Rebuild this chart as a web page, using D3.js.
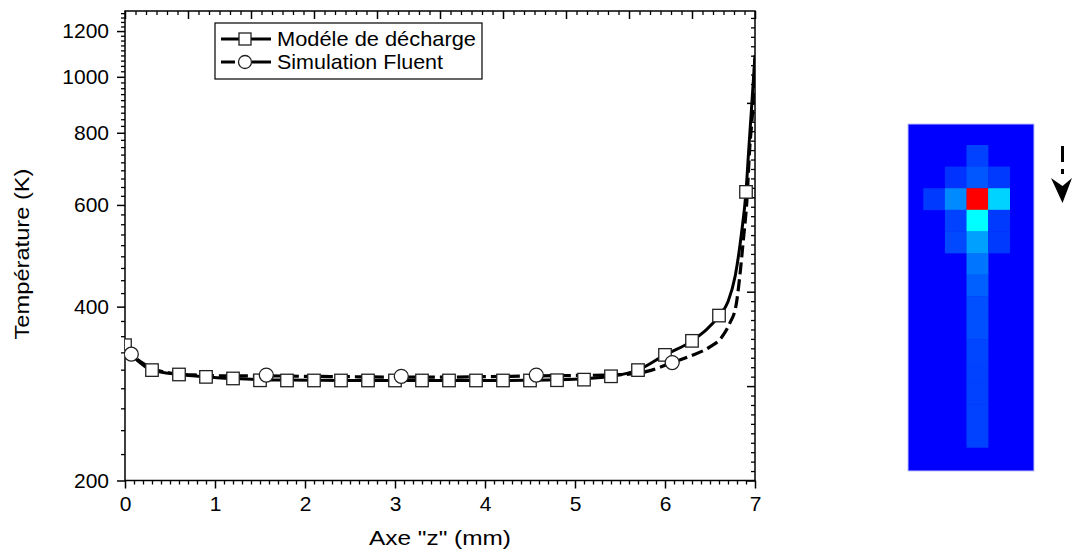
<!DOCTYPE html>
<html><head><meta charset="utf-8">
<script src="https://cdn.jsdelivr.net/npm/d3@7"></script>
<style>body{margin:0;background:#fff}svg{display:block;font-family:"Liberation Sans",Arial,sans-serif}</style>
</head><body>
<svg id="c" width="1072" height="555"></svg>
<script>
// ---- data ----
const xTicks = [0,1,2,3,4,5,6,7];
const yTicks = [200,400,600,800,1000,1200];
const seriesNames = ["Modéle de décharge","Simulation Fluent"];
// Modèle de décharge (solid curve)
const modeleZ = [0,0.1,0.2,0.3,0.6,0.9,1.2,1.5,1.8,2.1,2.4,2.7,3.0,3.3,3.6,3.9,4.2,4.5,4.8,5.1,5.4,5.7,6.0,6.3,6.6,6.7,6.78,6.85,6.9,6.93,6.96,7.0];
const modeleT = [343,327,317,310.6,305.2,302.3,300.4,299,298.5,298.2,298,298,298,298,298,298,298,298.3,298.8,300,303,310.6,330,349,386,408,452,536,632,746,875,1090];
// square markers of the model (every 0.3 mm)
const markZ = [0,0.3,0.6,0.9,1.2,1.5,1.8,2.1,2.4,2.7,3.0,3.3,3.6,3.9,4.2,4.5,4.8,5.1,5.4,5.7,6.0,6.3,6.6,6.9];
const markT = [343,310.6,305.2,302.3,300.4,298.2,298,298,298,298,298,298,298,298,298,298,298.3,299,303,310.6,330,349,386,632];
// Simulation Fluent (dashed curve)
const fluentZ = [0,0.07,0.2,0.3,0.5,0.8,1.2,1.57,2.0,2.5,3.07,3.5,4.0,4.57,5.0,5.5,5.8,6.08,6.28,6.5,6.63,6.72,6.79,6.83,6.87,6.91,6.94,6.98,7.0];
const fluentT = [340,331,319,313,307,304.5,303.5,303.5,303,302.5,302,302,302.5,303.5,304,305,309,320,328.4,340.8,354,374.6,402.5,450,521,611,746,911,1090];
// circle markers of Fluent
const circZ = [0.07,1.57,3.07,4.57,6.08];
const circT = [331,304.5,303,304.5,320];
// temperature map (col,row,level 0..1)
const heatCol = [2, 1,2,3, 0,1,2,3, 1,2,3, 1,2,3, 2,2,2,2,2,2,2,2,2];
const heatRow = [0, 1,1,1, 2,2,2,2, 3,3,3, 4,4,4, 5,6,7,8,9,10,11,12,13];
const heatVal = [0.09, 0.07,0.12,0.08, 0.08,0.19,1.0,0.29, 0.09,0.35,0.08, 0.10,0.22,0.08, 0.16,0.13,0.11,0.11,0.095,0.09,0.09,0.09,0.09];

// ---- drawing ----
const svg = d3.select("#c");
const L=125,R=755,T=11,B=480.5;
const x = d3.scaleLinear([0,7],[L,R]);
const y = d3.scaleLog([200,1300],[B,T]);

// minor ticks
const yMinor=[];
const majorsExt=[200,400,600,800,1000,1200,1400];
for(let i=0;i<majorsExt.length-1;i++){for(let k=1;k<9;k++){const v=majorsExt[i]+k*(majorsExt[i+1]-majorsExt[i])/9; if(v<1300) yMinor.push(v);}}
const xMinor=d3.range(0,70).map(i=>i/10).filter(v=>Math.abs(v-Math.round(v))>1e-6);
function i6(v){return Math.abs(v-Math.round(v))>1e-6;}

// frame
svg.append("rect").attr("x",L).attr("y",T).attr("width",R-L).attr("height",B-T).attr("fill","none").attr("stroke","#000").attr("stroke-width",1.5);

function tickStyle(s,w){s.select(".domain").remove();s.selectAll("line").attr("stroke-width",w);}
// left axis (outward ticks)
const ya = svg.append("g").attr("transform",`translate(${L},0)`)
  .call(d3.axisLeft(y).tickValues(yTicks).tickFormat(d3.format("d")).tickSize(8).tickPadding(8));
tickStyle(ya,1.5);
ya.selectAll("text").attr("font-size",21).attr("fill","#000").attr("font-family","Liberation Sans, Arial, sans-serif");
svg.append("g").attr("transform",`translate(${L},0)`).call(d3.axisLeft(y).tickValues(yMinor).tickSize(4).tickFormat("")).call(s=>tickStyle(s,1.3));

// bottom axis (outward)
const xa = svg.append("g").attr("transform",`translate(0,${B})`)
  .call(d3.axisBottom(x).tickValues(xTicks).tickFormat(d3.format("d")).tickSize(8).tickPadding(8));
tickStyle(xa,1.5);
xa.selectAll("text").attr("font-size",21).attr("fill","#000").attr("font-family","Liberation Sans, Arial, sans-serif");
svg.append("g").attr("transform",`translate(0,${B})`).call(d3.axisBottom(x).tickValues(xMinor).tickSize(4).tickFormat("")).call(s=>tickStyle(s,1.3));

// top frame axis (inward, own linear scale 0..10)
const xTop = d3.scaleLinear([0,10],[L,R]);
svg.append("g").attr("transform",`translate(0,${T})`).call(d3.axisTop(xTop).tickValues(d3.range(0,11)).tickSize(-8).tickFormat("")).call(s=>tickStyle(s,1.5));
svg.append("g").attr("transform",`translate(0,${T})`).call(d3.axisTop(xTop).tickValues(d3.range(0,60).map(i=>i/6).filter(v=>i6(v))).tickSize(-4).tickFormat("")).call(s=>tickStyle(s,1.3));
// right frame axis (inward, own linear scale)
const yRight = d3.scaleLinear([0,1],[B,B-94.4]);
const rMaj = d3.range(0,5), rMin = d3.range(1,50).map(i=>i/10).filter(v=>i6(v) && yRight(v)>=T);
svg.append("g").attr("transform",`translate(${R},0)`).call(d3.axisRight(yRight).tickValues(rMaj).tickSize(-8).tickFormat("")).call(s=>tickStyle(s,1.5));
svg.append("g").attr("transform",`translate(${R},0)`).call(d3.axisRight(yRight).tickValues(rMin).tickSize(-4).tickFormat("")).call(s=>tickStyle(s,1.3));

// clip
svg.append("clipPath").attr("id","clip").append("rect").attr("x",L).attr("y",T).attr("width",R-L).attr("height",B-T);
const plot = svg.append("g").attr("clip-path","url(#clip)");

const line = d3.line().x(d=>x(d[0])).y(d=>y(d[1])).curve(d3.curveMonotoneX);
const modeleData = modeleZ.map((z,i)=>[z,modeleT[i]]);
const fluentData = fluentZ.map((z,i)=>[z,fluentT[i]]);
plot.append("path").attr("d",line(fluentData)).attr("fill","none").attr("stroke","#000").attr("stroke-width",3.2).attr("stroke-dasharray","12,5");
plot.append("path").attr("d",line(modeleData)).attr("fill","none").attr("stroke","#000").attr("stroke-width",3);

const sq=12.5;
plot.selectAll("rect.m").data(markZ.map((z,i)=>[z,markT[i]])).join("rect").attr("class","m")
  .attr("x",d=>x(d[0])-sq/2).attr("y",d=>y(d[1])-sq/2).attr("width",sq).attr("height",sq)
  .attr("fill","#fff").attr("stroke","#222").attr("stroke-width",1.3);
plot.selectAll("circle.f").data(circZ.map((z,i)=>[z,circT[i]])).join("circle").attr("class","f")
  .attr("cx",d=>x(d[0])).attr("cy",d=>y(d[1])).attr("r",7)
  .attr("fill","#fff").attr("stroke","#222").attr("stroke-width",1.3);

// legend
const lg = svg.append("g");
lg.append("rect").attr("x",215).attr("y",23).attr("width",267).attr("height",56).attr("fill","#fff").attr("stroke","#000").attr("stroke-width",1.2);
const rowsY=[39,62];
lg.append("line").attr("x1",221).attr("x2",271).attr("y1",rowsY[0]).attr("y2",rowsY[0]).attr("stroke","#000").attr("stroke-width",3);
lg.append("rect").attr("x",245-6).attr("y",rowsY[0]-6).attr("width",12).attr("height",12).attr("fill","#fff").attr("stroke","#222").attr("stroke-width",1.3);
lg.append("line").attr("x1",221).attr("x2",271).attr("y1",rowsY[1]).attr("y2",rowsY[1]).attr("stroke","#000").attr("stroke-width",3).attr("stroke-dasharray","14,17,19");
lg.append("circle").attr("cx",245).attr("cy",rowsY[1]).attr("r",6.5).attr("fill","#fff").attr("stroke","#222").attr("stroke-width",1.3);
const lw=[199,166];
seriesNames.forEach((n,i)=>{
  lg.append("text").attr("x",277).attr("y",rowsY[i]+7).attr("font-size",21).attr("textLength",lw[i]).attr("lengthAdjust","spacingAndGlyphs").text(n);
});

// axis titles
svg.append("text").attr("x",440).attr("y",545).attr("text-anchor","middle").attr("font-size",21).attr("textLength",142).attr("lengthAdjust","spacingAndGlyphs").text('Axe "z" (mm)');
svg.append("text").attr("transform","translate(29,254) rotate(-90)").attr("text-anchor","middle").attr("font-size",21).attr("textLength",171).attr("lengthAdjust","spacingAndGlyphs").text("Température (K)");

// temperature map
const color = d3.scaleLinear().domain([0,0.35,0.65,1]).range(["#0000ff","#00ffff","#ffff00","#ff0000"]);
const hm = svg.append("g");
hm.append("rect").attr("x",908).attr("y",124).attr("width",126).attr("height",347).attr("fill","#0000ff").attr("stroke","#c0c0ff").attr("stroke-width",1);
const cw=21.6, gx0=923.3, gy0=145;
hm.selectAll("rect.cell").data(heatVal.map((v,i)=>({c:heatCol[i],r:heatRow[i],v}))).join("rect").attr("class","cell")
  .attr("x",d=>gx0+d.c*cw).attr("y",d=>gy0+d.r*cw).attr("width",cw+0.3).attr("height",cw+0.3).attr("fill",d=>color(d.v));
// flow arrow
const ar = svg.append("g");
ar.append("line").attr("x1",1062.5).attr("x2",1062.5).attr("y1",146).attr("y2",162).attr("stroke","#000").attr("stroke-width",3);
ar.append("line").attr("x1",1062.5).attr("x2",1062.5).attr("y1",169).attr("y2",174).attr("stroke","#000").attr("stroke-width",3);
ar.append("path").attr("d","M1051,178 L1062.5,186 L1072,178 L1062.5,203 Z").attr("fill","#000");
</script>
</body></html>
